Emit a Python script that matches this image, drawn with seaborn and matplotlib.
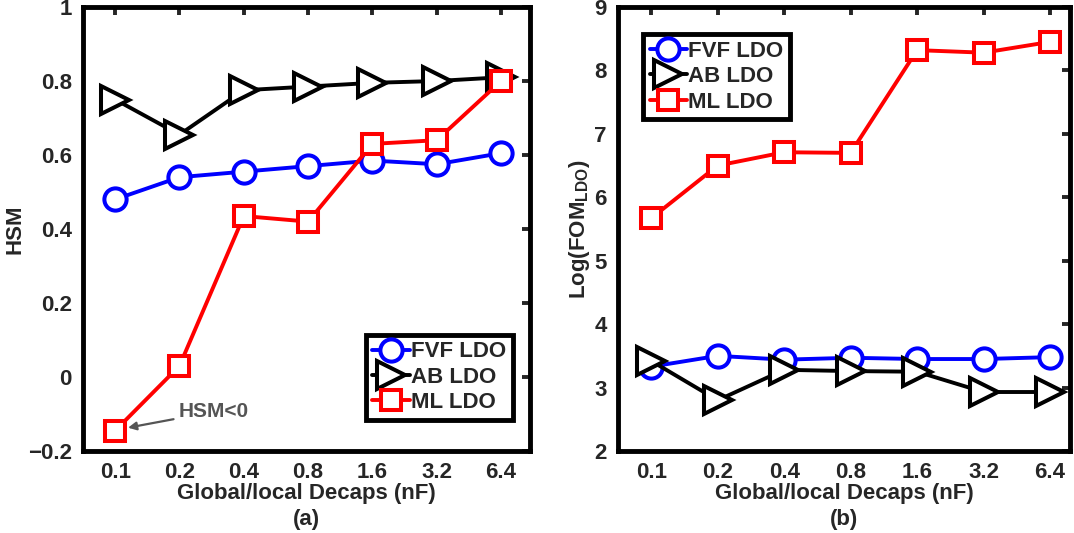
import numpy as np
import pandas as pd
import matplotlib
matplotlib.use("Agg")
import matplotlib.pyplot as plt
import seaborn as sns

categories = ["0.1", "0.2", "0.4", "0.8", "1.6", "3.2", "6.4"]
series_names = ["FVF LDO", "AB LDO", "ML LDO"]

hsm_fvf = [0.48, 0.54, 0.555, 0.57, 0.585, 0.575, 0.605]
hsm_ab = [0.75, 0.655, 0.775, 0.785, 0.795, 0.80, 0.81]
hsm_ml = [-0.145, 0.03, 0.435, 0.42, 0.63, 0.64, 0.80]

fom_fvf = [3.33, 3.50, 3.44, 3.47, 3.45, 3.45, 3.48]
fom_ab = [3.42, 2.80, 3.28, 3.26, 3.25, 2.93, 2.93]
fom_ml = [5.67, 6.50, 6.71, 6.70, 8.32, 8.28, 8.45]

hsm_ticks = [-0.2, 0, 0.2, 0.4, 0.6, 0.8, 1]
hsm_ticklabels = ["\u22120.2", "0", "0.2", "0.4", "0.6", "0.8", "1"]
fom_ticks = [2, 3, 4, 5, 6, 7, 8, 9]

sns.set_style("white")
plt.rcParams["font.family"] = ["Liberation Sans", "DejaVu Sans"]
plt.rcParams["font.weight"] = "bold"
plt.rcParams["mathtext.fontset"] = "custom"
plt.rcParams["mathtext.rm"] = "Liberation Sans:bold"
plt.rcParams["mathtext.it"] = "Liberation Sans:bold"
plt.rcParams["mathtext.bf"] = "Liberation Sans:bold"

FS = 16
fig = plt.figure(figsize=(10.74, 5.33), dpi=100)
W, H = 1074, 533
axL = fig.add_axes([83 / W, 1 - 451 / H, (530 - 83) / W, (451 - 7) / H])
axR = fig.add_axes([618 / W, 1 - 451 / H, (1070 - 618) / W, (451 - 7) / H])

styles = {
    "FVF LDO": dict(color="#0000ff", marker="o", markersize=16),
    "AB LDO": dict(color="#000000", marker=">", markersize=20),
    "ML LDO": dict(color="#ff0000", marker="s", markersize=14),
}

def draw(ax, data):
    pos = np.arange(len(categories))
    for name, vals in zip(series_names, data):
        st = styles[name]
        df = pd.DataFrame({"x": pos, "y": vals})
        sns.lineplot(data=df, x="x", y="y", ax=ax, color=st["color"],
                     marker=st["marker"], markersize=st["markersize"],
                     markerfacecolor="white", markeredgecolor=st["color"],
                     markeredgewidth=2.9, linewidth=2.8, label=name,
                     legend=False)
    ax.set_xticks(pos)
    ax.set_xticklabels(categories)
    for sp in ax.spines.values():
        sp.set_linewidth(3.5)
        sp.set_color("black")
    ax.tick_params(direction="in", length=6, width=2.8, top=True, right=True,
                   labelsize=FS, pad=8)
    for lab in ax.get_xticklabels() + ax.get_yticklabels():
        lab.set_fontweight("bold")
    ax.set_xlabel("Global/local Decaps (nF)", fontsize=FS, fontweight="bold", labelpad=0)

def legend(ax, loc, anchor):
    leg = ax.legend(loc=loc, bbox_to_anchor=anchor, fontsize=FS,
                    frameon=True, fancybox=False, framealpha=1, handlelength=1.7,
                    handletextpad=0.05, borderpad=0.3, labelspacing=0.2,
                    borderaxespad=0)
    fr = leg.get_frame()
    fr.set_linewidth(3.5)
    fr.set_edgecolor("black")
    for t in leg.get_texts():
        t.set_fontweight("bold")
    return leg

draw(axL, [hsm_fvf, hsm_ab, hsm_ml])
axL.set_xlim(-0.5, 6.45)
axL.set_ylim(-0.2, 1.0)
axL.set_yticks(hsm_ticks)
axL.set_yticklabels(hsm_ticklabels)
axL.set_ylabel("HSM", fontsize=FS, fontweight="bold", labelpad=2)
for lab in axL.get_yticklabels():
    lab.set_fontweight("bold")
legend(axL, "lower right", (0.962, 0.07))
axL.annotate("HSM<0", xy=(0.2, -0.137), xytext=(0.98, -0.094),
             fontsize=15, fontweight="bold", color="#555555",
             ha="left", va="center",
             arrowprops=dict(arrowstyle="-|>", color="#555555", lw=1.6,
                             mutation_scale=12, shrinkA=1, shrinkB=0))

draw(axR, [fom_fvf, fom_ab, fom_ml])
axR.set_xlim(-0.5, 6.3)
axR.set_ylim(2, 9)
axR.set_yticks(fom_ticks)
axR.set_ylabel("Log(FOM$_{\\mathrm{LDO}}$)", fontsize=FS, fontweight="bold", labelpad=2)
for lab in axR.get_yticklabels():
    lab.set_fontweight("bold")
legend(axR, "upper left", (0.055, 0.939))

fig.text((83 + 530) / 2 / W, 1 - 520 / H, "(a)", ha="center", va="center",
         fontsize=FS, fontweight="bold")
fig.text((618 + 1070) / 2 / W, 1 - 520 / H, "(b)", ha="center", va="center",
         fontsize=FS, fontweight="bold")

fig.savefig("out.png", dpi=100)
